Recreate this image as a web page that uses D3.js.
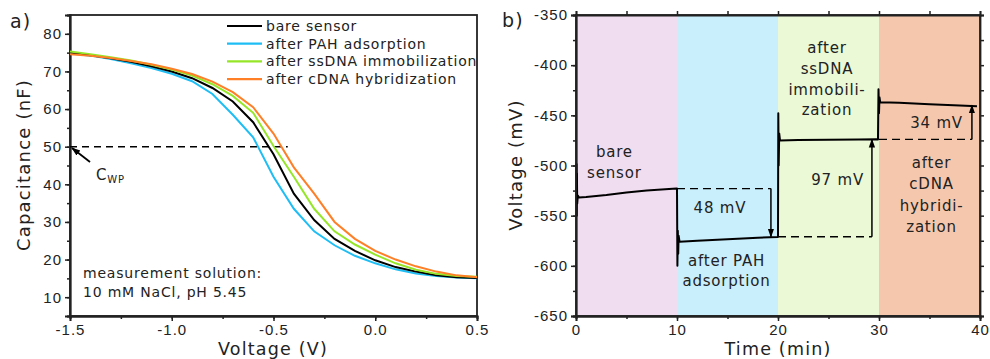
<html>
<head>
<script src="https://d3js.org/d3.v7.min.js"></script>
<style>
  body { margin:0; background:#fff; }
  svg { display:block; font-family:"DejaVu Sans", Verdana, sans-serif; }
  .tick text { font-size:15px; letter-spacing:1px; fill:#222; }
  .domain { stroke:#222; stroke-width:1.8; }
  .tick line { stroke:#222; stroke-width:1.5; }
</style>
</head>
<body>
<svg width=990 height=359></svg>
<script>

// ---- panel a) capacitance-voltage curves ----
var voltageV = [-1.5,-1.4,-1.3,-1.2,-1.1,-1.0,-0.9,-0.8,-0.7,-0.6,-0.5,-0.4,-0.3,-0.2,-0.1,0.0,0.1,0.2,0.3,0.4,0.5];
var capBare  = [75.0,74.3,73.5,72.6,71.4,70.0,68.2,65.6,62.0,56.5,48.0,37.5,30.5,25.5,22.3,19.8,18.0,16.8,15.8,15.3,15.1];
var capPAH   = [74.8,74.2,73.3,72.2,70.9,69.4,67.4,64.0,58.5,52.5,42.0,33.5,27.5,23.8,21.0,19.0,17.4,16.3,15.6,15.2,15.0];
var capSsDNA = [75.3,74.6,73.8,72.9,71.8,70.5,68.9,66.6,63.5,59.0,50.2,42.0,33.5,27.5,24.0,21.3,19.0,17.3,16.2,15.6,15.4];
var capCDNA  = [74.6,74.2,73.6,72.8,71.9,70.7,69.3,67.3,64.5,60.5,53.5,44.5,37.5,30.0,25.5,22.3,20.0,18.2,16.8,15.8,15.3];
var seriesNames  = ["bare sensor","after PAH adsorption","after ssDNA immobilization","after cDNA hybridization"];
var seriesColors = ["#000000","#1ebef5","#96e628","#ff7f27"];
var capTicks = [10,20,30,40,50,60,70,80];
var voltTicks = [-1.5,-1.0,-0.5,0.0,0.5];

// ---- panel b) potential vs time ----
var traceTime = [0.05,0.07,0.09,0.12,0.18,0.3,1,3,5,7,9.95,
                 10.0,10.04,10.08,10.12,10.16,10.25,12,15,18,19.95,
                 20.0,20.03,20.07,20.12,20.2,22,25,28,29.75,
                 29.9,29.95,30.0,30.05,30.12,32,35,38,39.7];
var traceMv   = [-498,-550,-508,-538,-530,-532,-531.5,-529.5,-527,-525,-523,
                 -523,-600,-565,-588,-570,-576,-575,-573.5,-572,-571.3,
                 -571,-448,-500,-468,-475,-474.7,-474.3,-474,-473.8,
                 -474,-424,-448,-432,-437,-437.5,-439,-440.3,-441];
var stageStart  = [0,10,20,30];
var stageEnd    = [10,20,30,40];
var stageColors = ["#f1ddf0","#c9eefc","#ebf9d6","#f5c8ae"];
var levelMv = [-523,-571,-474,-440];
var stepLabels = ["48 mV","97 mV","34 mV"];
var mvTicks = [-650,-600,-550,-500,-450,-400,-350];
var timeTicks = [0,10,20,30,40];

var svg = d3.select("svg");
var ink = "#222";

var defs = svg.append("defs");
defs.append("marker").attr("id","head")
  .attr("viewBox","0 0 10 10").attr("refX",9).attr("refY",5)
  .attr("markerWidth",9).attr("markerHeight",9).attr("markerUnits","userSpaceOnUse")
  .attr("orient","auto")
  .append("path").attr("d","M0,1.5 L10,5 L0,8.5 Z").attr("fill","#000");

function txt(g, x, y, s, size, anchor) {
  return g.append("text").attr("x",x).attr("y",y).text(s)
    .style("font-size",size+"px").style("letter-spacing",(size>16?1.2:0.8)+"px")
    .attr("text-anchor",anchor||"start").attr("fill",ink);
}

// ================= panel a =================
var xa = d3.scaleLinear().domain([-1.5,0.5]).range([70,477]);
var ya = d3.scaleLinear().domain([5,85]).range([316,15]);
var ga = svg.append("g");

// box
ga.append("rect").attr("x",70).attr("y",15).attr("width",407).attr("height",301)
  .attr("fill","none").attr("stroke",ink).attr("stroke-width",1.8);

// minor ticks
ga.append("g").attr("transform","translate(70,0)")
  .call(d3.axisLeft(ya).tickValues(d3.range(5,86,5)).tickSize(3).tickFormat(""));
ga.append("g").attr("transform","translate(0,316)")
  .call(d3.axisBottom(xa).tickValues(d3.range(-1.5,0.51,0.25)).tickSize(3).tickFormat(""));
// major ticks
ga.append("g").attr("transform","translate(70,0)")
  .call(d3.axisLeft(ya).tickValues(capTicks).tickSize(5).tickPadding(3));
ga.append("g").attr("transform","translate(0,316)")
  .call(d3.axisBottom(xa).tickValues(voltTicks).tickSize(5).tickPadding(3))
  .selectAll("text").text(function(d){ return d3.format(".1f")(d).replace("−","-"); });

// dashed C_WP line
ga.append("line").attr("x1",xa(-1.5)).attr("x2",xa(-0.43)).attr("y1",ya(50)).attr("y2",ya(50))
  .attr("stroke","#000").attr("stroke-width",1.4).attr("stroke-dasharray","7,5");

// curves
var capSeries = [capBare, capPAH, capSsDNA, capCDNA];
var lineA = d3.line().x(function(d){ return xa(d[0]); }).y(function(d){ return ya(d[1]); });
[1,0,2,3].forEach(function(i){
  ga.append("path").datum(voltageV.map(function(v,k){ return [v, capSeries[i][k]]; }))
    .attr("d",lineA).attr("fill","none").attr("stroke",seriesColors[i]).attr("stroke-width",2);
});

// C_WP arrow + label
ga.append("line").attr("x1",90).attr("y1",162).attr("x2",72).attr("y2",148)
  .attr("stroke","#000").attr("stroke-width",1.8).attr("marker-end","url(#head)");
var cwp = txt(ga, 96, 180, "C", 15);
cwp.append("tspan").text("WP").attr("dy",3).style("font-size","10px");

// measurement solution note
txt(ga, 83, 278, "measurement solution:", 14);
txt(ga, 83, 297, "10 mM NaCl, pH 5.45", 14);

// legend
seriesNames.forEach(function(n,i){
  var cy = 26 + i*17.7;
  ga.append("line").attr("x1",227).attr("x2",262).attr("y1",cy).attr("y2",cy)
    .attr("stroke",seriesColors[i]).attr("stroke-width",2.2);
  txt(ga, 266, cy+5, n, 14);
});

// labels
txt(svg, 10, 28, "a)", 19);
txt(svg, 273, 355, "Voltage (V)", 17.5, "middle");
txt(svg, 0, 0, "Capacitance (nF)", 18, "middle").attr("transform","translate(30,165) rotate(-90)");

// ================= panel b =================
var xb = d3.scaleLinear().domain([0,40]).range([576,980]);
var yb = d3.scaleLinear().domain([-650,-350]).range([316,15]);
var gb = svg.append("g");

stageStart.forEach(function(s,i){
  gb.append("rect").attr("x",xb(s)).attr("y",yb(-350)).attr("width",xb(stageEnd[i])-xb(s))
    .attr("height",yb(-650)-yb(-350)).attr("fill",stageColors[i]);
});

var fmtMinus = function(d){ return String(d); };
// minor ticks, all four sides
gb.append("g").attr("transform","translate(576,0)")
  .call(d3.axisLeft(yb).tickValues(d3.range(-650,-349,25)).tickSize(3).tickFormat(""));
gb.append("g").attr("transform","translate(980,0)")
  .call(d3.axisRight(yb).tickValues(d3.range(-650,-349,25)).tickSize(4).tickFormat(""));
gb.append("g").attr("transform","translate(0,316)")
  .call(d3.axisBottom(xb).tickValues(d3.range(0,41,5)).tickSize(3).tickFormat(""));
gb.append("g").attr("transform","translate(0,15)")
  .call(d3.axisTop(xb).tickValues(d3.range(0,41,5)).tickSize(4).tickFormat(""));
// major ticks
gb.append("g").attr("transform","translate(576,0)")
  .call(d3.axisLeft(yb).tickValues(mvTicks).tickSize(5).tickPadding(3).tickFormat(fmtMinus));
gb.append("g").attr("transform","translate(0,316)")
  .call(d3.axisBottom(xb).tickValues(timeTicks).tickSize(5).tickPadding(3).tickFormat(fmtMinus));

// step guides (dashed)
var dashes = [[10,19.3,levelMv[0]],[20,29.3,levelMv[1]],[30,39.2,levelMv[2]]];
dashes.forEach(function(d){
  gb.append("line").attr("x1",xb(d[0])).attr("x2",xb(d[1])).attr("y1",yb(d[2])).attr("y2",yb(d[2]))
    .attr("stroke","#000").attr("stroke-width",1.4).attr("stroke-dasharray","8,5");
});

// arrows
var arrows = [[19.3,levelMv[0],levelMv[1]],[29.3,levelMv[1],levelMv[2]],[39.2,levelMv[2],levelMv[3]]];
arrows.forEach(function(a){
  gb.append("line").attr("x1",xb(a[0])).attr("x2",xb(a[0])).attr("y1",yb(a[1])).attr("y2",yb(a[2]))
    .attr("stroke","#000").attr("stroke-width",1.5).attr("marker-end","url(#head)");
});

// trace
var lineB = d3.line().x(function(d){ return xb(d[0]); }).y(function(d){ return yb(d[1]); });
gb.append("path").datum(traceTime.map(function(t,k){ return [t, traceMv[k]]; }))
  .attr("d",lineB).attr("fill","none").attr("stroke","#000").attr("stroke-width",2)
  .attr("stroke-linejoin","round");

// frame
gb.append("rect").attr("x",576).attr("y",15).attr("width",404).attr("height",301)
  .attr("fill","none").attr("stroke",ink).attr("stroke-width",1.8);

// annotations
function block(lines, t, mv0, step) {
  lines.forEach(function(s,i){
    txt(gb, xb(t), yb(mv0)+i*step, s, 15, "middle");
  });
}
block(["bare","sensor"], 3.8, -491.7, 21);
block(["after PAH","adsorption"], 14.9, -600.4, 19.5);
block(["after","ssDNA","immobili-","zation"], 24.85, -388, 20.7);
block(["after","cDNA","hybridi-","zation"], 35.2, -502.6, 21.2);
txt(gb, xb(14.25), yb(-547.5), stepLabels[0], 15, "middle");
txt(gb, xb(25.9), yb(-519.6), stepLabels[1], 15, "middle");
txt(gb, xb(35.7), yb(-462.7), stepLabels[2], 15, "middle");

txt(svg, 502, 27, "b)", 19);
txt(svg, 778, 355, "Time (min)", 17.5, "middle");
txt(svg, 0, 0, "Voltage (mV)", 18, "middle").attr("transform","translate(522,165) rotate(-90)");

</script>
</body>
</html>
